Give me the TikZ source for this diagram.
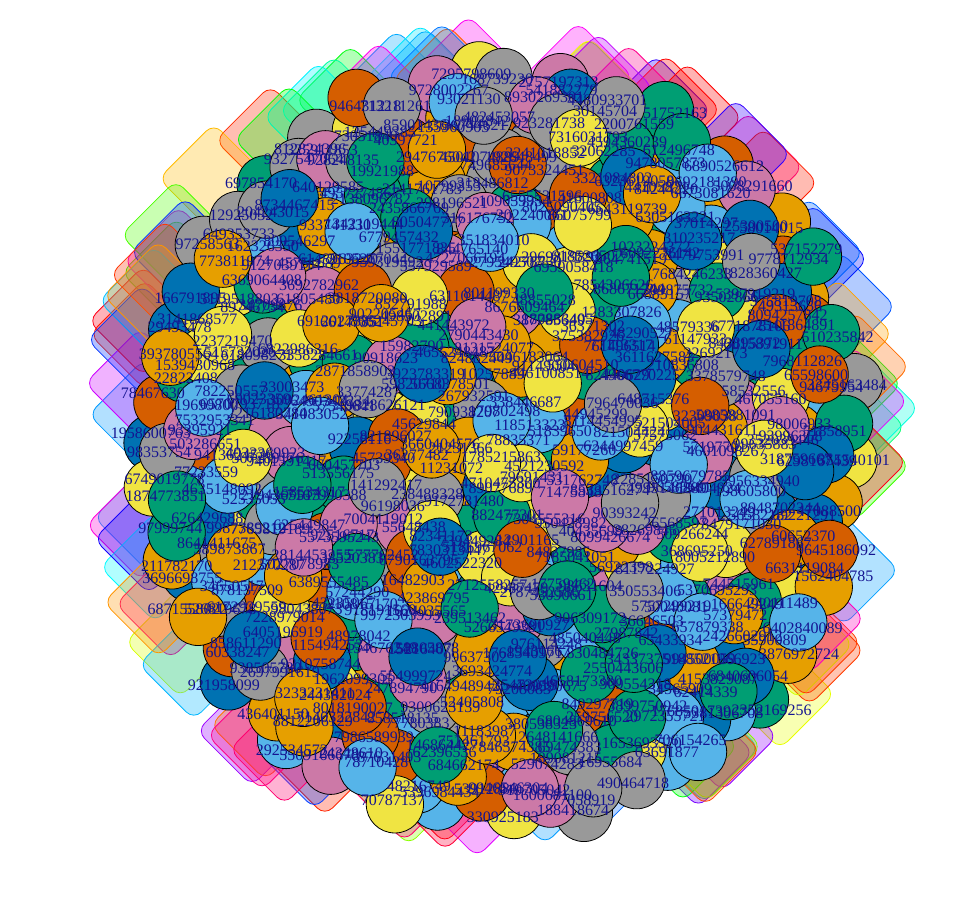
\documentclass[tikz,border=0pt]{standalone}
\usepackage{fontspec}
\setmainfont{Liberation Serif}
\selectcolormodel{rgb}
\definecolor{pal1}{HTML}{E69F00}
\definecolor{pal2}{HTML}{56B4E9}
\definecolor{pal3}{HTML}{009E73}
\definecolor{pal4}{HTML}{F0E442}
\definecolor{pal5}{HTML}{0072B2}
\definecolor{pal6}{HTML}{D55E00}
\definecolor{pal7}{HTML}{CC79A7}
\definecolor{pal8}{HTML}{999999}
\definecolor{lblc}{RGB}{20,20,145}
\begin{document}
\begin{tikzpicture}[x=0.75pt,y=-0.75pt,
  vtx/.style={circle,draw=black,line width=0.6pt,minimum size=43pt,inner sep=0pt},
  lbl/.style={text=lblc,inner sep=0pt,font=\fontsize{12}{13}\selectfont},
  blob/.style={line width=0.6pt,fill opacity=0.3,rounded corners=8pt}]
\useasboundingbox (0,0) rectangle (976,898);
\pgfmathsetseed{4242}
% translucent rounded diamonds forming the outer ring
\foreach \k in {1,...,80}{
  \pgfmathsetmacro\ang{rnd*360}
  \pgfmathsetmacro\hh{rnd}
  \pgfmathsetmacro\ds{max(abs(cos(\ang)),abs(sin(\ang)))}
  \pgfmathsetmacro\rr{425-55*\ds-rnd*18}
  \pgfmathsetmacro\dx{495+\rr*cos(\ang)}
  \pgfmathsetmacro\dy{438-\rr*sin(\ang)}
  \definecolor{dcol}{hsb}{\hh,1,1}
  \draw[blob,draw=dcol,fill=dcol] (\dx,\dy-55) -- (\dx+55,\dy) -- (\dx,\dy+55) -- (\dx-55,\dy) -- cycle;
}
% vertices
\foreach \i in {0,...,449}{
  \pgfmathtruncatemacro\j{mod(\i*31,450)}
  \pgfmathsetmacro\rf{sqrt((\j+0.5)/450)}
  \pgfmathsetmacro\th{10*mod(\j*13.75078,36)}
  \pgfmathsetmacro\cx{502+354*\rf*cos(\th)+rand*8}
  \pgfmathsetmacro\cy{445+378*\rf*sin(\th)+rand*8}
  \pgfmathrandominteger\ci{1}{8}
  \node[vtx,fill=pal\ci] (c\i) at (\cx,\cy) {};
}
% labels on top
\foreach \i in {0,...,449}{
  \pgfmathrandominteger\dd{1}{9}\xdef\numstr{\dd}
  \pgfmathrandominteger\len{7}{9}
  \foreach \k in {1,...,\len}{\pgfmathrandominteger\dd{0}{9}\xdef\numstr{\numstr\dd}}
  \node[lbl] (t\i) at ([shift={(rand*12,rand*12)}]c\i) {\numstr};
}
\end{tikzpicture}
\end{document}
